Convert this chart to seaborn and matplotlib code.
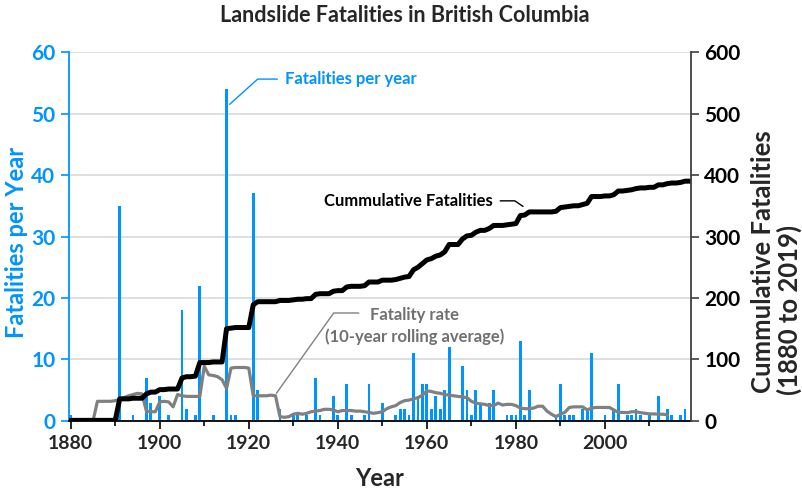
import matplotlib
matplotlib.use('Agg')
import matplotlib.pyplot as plt
import numpy as np
import pandas as pd
import seaborn as sns

# yearly fatalities (only years with at least one death)
bar_years = [1880, 1891, 1894, 1897, 1898, 1900, 1902, 1905, 1906, 1908, 1909, 1912,
             1915, 1916, 1917, 1921, 1922, 1927, 1930, 1931, 1933, 1935, 1936, 1939,
             1940, 1942, 1943, 1946, 1947, 1950, 1953, 1954, 1955, 1956, 1957, 1958,
             1959, 1960, 1961, 1962, 1963, 1964, 1965, 1968, 1969, 1970, 1971, 1972,
             1974, 1975, 1978, 1979, 1980, 1981, 1982, 1983, 1989, 1990, 1991, 1992,
             1993, 1995, 1996, 1997, 2000, 2002, 2003, 2005, 2006, 2007, 2008, 2010,
             2012, 2014, 2015, 2017, 2018]
bar_deaths = [1, 35, 1, 7, 3, 4, 1, 18, 2, 1, 22, 1,
              54, 1, 1, 37, 5, 2, 1, 1, 1, 7, 1, 4,
              1, 6, 1, 1, 6, 3, 1, 2, 2, 1, 11, 4,
              6, 6, 2, 4, 2, 5, 12, 9, 5, 1, 5, 3,
              3, 5, 1, 1, 1, 13, 1, 5, 1, 6, 1, 1,
              1, 2, 2, 11, 1, 2, 6, 1, 1, 2, 1, 1,
              4, 2, 1, 1, 2]

# 10-year rolling average (1880-2014)
rate_years = list(range(1880, 2015))
rate_values = [0, 0, 0, 0, 0, 0, 3.2, 3.2, 3.2, 3.2,
               3.3, 3.5, 3.8, 4.1, 4.3, 4.5, 4.4, 1.6, 1.5, 1.5,
               3.1, 3.2, 3.1, 2.3, 4.3, 4.1, 4.0, 4.0, 4.0, 4.0,
               8.9, 7.5, 7.4, 7.2, 6.7, 5.3, 8.6, 8.7, 8.7, 8.7,
               8.6, 4.1, 4.1, 4.1, 4.1, 4.2, 4.1, 0.7, 0.6, 0.7,
               1.1, 1.25, 1.1, 1.25, 1.5, 1.6, 1.7, 1.9, 1.9, 1.8,
               1.5, 1.7, 1.7, 1.7, 1.6, 1.6, 1.5, 1.4, 1.25, 1.35,
               1.5, 2.0, 2.3, 2.5, 3.0, 3.3, 3.4, 3.6, 3.8, 4.2,
               4.9, 4.8, 4.6, 4.5, 4.3, 4.2, 4.1, 4.0, 3.9, 3.8,
               3.2, 2.9, 2.8, 2.7, 2.5, 2.5, 2.9, 2.6, 2.7, 2.7,
               2.5, 2.1, 2.0, 2.0, 2.1, 2.4, 2.4, 1.6, 1.1, 0.7,
               1.1, 1.4, 2.2, 2.3, 2.3, 2.3, 1.8, 2.1, 2.2, 2.2,
               2.2, 2.2, 1.8, 1.4, 1.4, 1.35, 1.5, 1.5, 1.35, 1.25,
               1.15, 1.15, 1.1, 1.1, 1.0]

all_years = list(range(1880, 2020))

blue = '#0094ff'
grey = '#808080'

sns.set_style('white')
plt.rcParams['font.family'] = ['Lato', 'DejaVu Sans']
plt.rcParams['font.weight'] = 'bold'

df_cum = pd.Series(bar_deaths, index=bar_years).reindex(all_years, fill_value=0).cumsum()

fig = plt.figure(figsize=(8.03, 4.91), dpi=100)
ax = fig.add_axes([0.0862, 0.1426, 0.7743, 0.7514])

sns.barplot(x=bar_years, y=bar_deaths, native_scale=True, width=0.62, color=blue,
            saturation=1, linewidth=0, ax=ax, zorder=2)
sns.lineplot(x=rate_years, y=rate_values, color=grey, linewidth=2.3, ax=ax, zorder=3)

ax2 = ax.twinx()
sns.lineplot(x=all_years, y=df_cum.values, color='black', linewidth=3.6, ax=ax2)

ax.set_xlim(1879.66, 2019.33)
ax.set_ylim(0, 60)
ax2.set_ylim(0, 600)
ax.set_xlabel('')
ax.set_ylabel('')
ax2.set_ylabel('')

ax.set_xticks(range(1880, 2020, 20))
ax.set_xticks(range(1890, 2020, 20), minor=True)
ax.set_yticks(range(0, 61, 10))
ax2.set_yticks(range(0, 601, 100))

ax.yaxis.grid(True, color='#d9d9d9', linewidth=1.2)
ax.set_axisbelow(True)

for s in ['top', 'right']:
    ax.spines[s].set_visible(False)
for s in ['top', 'left', 'bottom']:
    ax2.spines[s].set_visible(False)
ax.spines['left'].set_color(blue)
ax.spines['left'].set_linewidth(1.3)
ax.spines['bottom'].set_color('black')
ax.spines['bottom'].set_linewidth(1.3)
ax2.spines['right'].set_color('#404040')
ax2.spines['right'].set_linewidth(1.3)

ax.tick_params(axis='x', which='major', direction='out', length=6, width=1.2,
               color='black', labelsize=14, pad=4, bottom=True)
ax.tick_params(axis='x', which='minor', direction='out', length=3.5, width=1.2,
               color='black', bottom=True)
ax.tick_params(axis='y', direction='out', length=5.5, width=1.2, color=blue,
               labelcolor=blue, labelsize=15, pad=4.5, left=True)
ax2.tick_params(axis='y', direction='out', length=6, width=1.2, color='#404040',
                labelcolor='black', labelsize=15, pad=3.5, right=True)

# titles and axis labels
fig.text(405 / 803, 1 - 16 / 491, 'Landslide Fatalities in British Columbia',
         ha='center', va='center', fontsize=15.5)
fig.text(17 / 803, 1 - 242 / 491, 'Fatalities per Year', rotation=90,
         ha='center', va='center', fontsize=17, color=blue)
fig.text(763 / 803, 1 - 262 / 491, 'Cummulative Fatalities', rotation=90,
         ha='center', va='center', fontsize=18.5)
fig.text(789 / 803, 1 - 310 / 491, '(1880 to 2019)', rotation=90,
         ha='center', va='center', fontsize=18.5)
fig.text(380 / 803, 1 - 478 / 491, 'Year', ha='center', va='center', fontsize=17)

# annotations
ax.annotate('Fatalities per year', xy=(1915.7, 51.5), xytext=(1928.1, 55.6),
            ha='left', va='center', fontsize=12, color=blue,
            arrowprops=dict(arrowstyle='-', color=blue, lw=1, relpos=(0, 0.5),
                            shrinkA=3, shrinkB=0,
                            connectionstyle='angle,angleA=0,angleB=42,rad=0'))
ax.annotate('Cummulative Fatalities', xy=(1981.6, 34.9), xytext=(1974.8, 35.8),
            ha='right', va='center', fontsize=12, color='black',
            arrowprops=dict(arrowstyle='-', color='black', lw=1, relpos=(1, 0.5),
                            shrinkA=3, shrinkB=0,
                            connectionstyle='angle,angleA=0,angleB=-34,rad=0'))
ax.annotate('Fatality rate', xy=(1926.2, 4.5), xytext=(1957.3, 17.3),
            ha='center', va='center', fontsize=12, color='#707070',
            arrowprops=dict(arrowstyle='-', color=grey, lw=1, relpos=(0, 0.6),
                            shrinkA=6, shrinkB=0,
                            connectionstyle='angle,angleA=0,angleB=54.5,rad=0'))
ax.text(1957.3, 13.75, '(10-year rolling average)', ha='center', va='center',
        fontsize=12, color='#707070')

fig.savefig('out.png', dpi=100)
